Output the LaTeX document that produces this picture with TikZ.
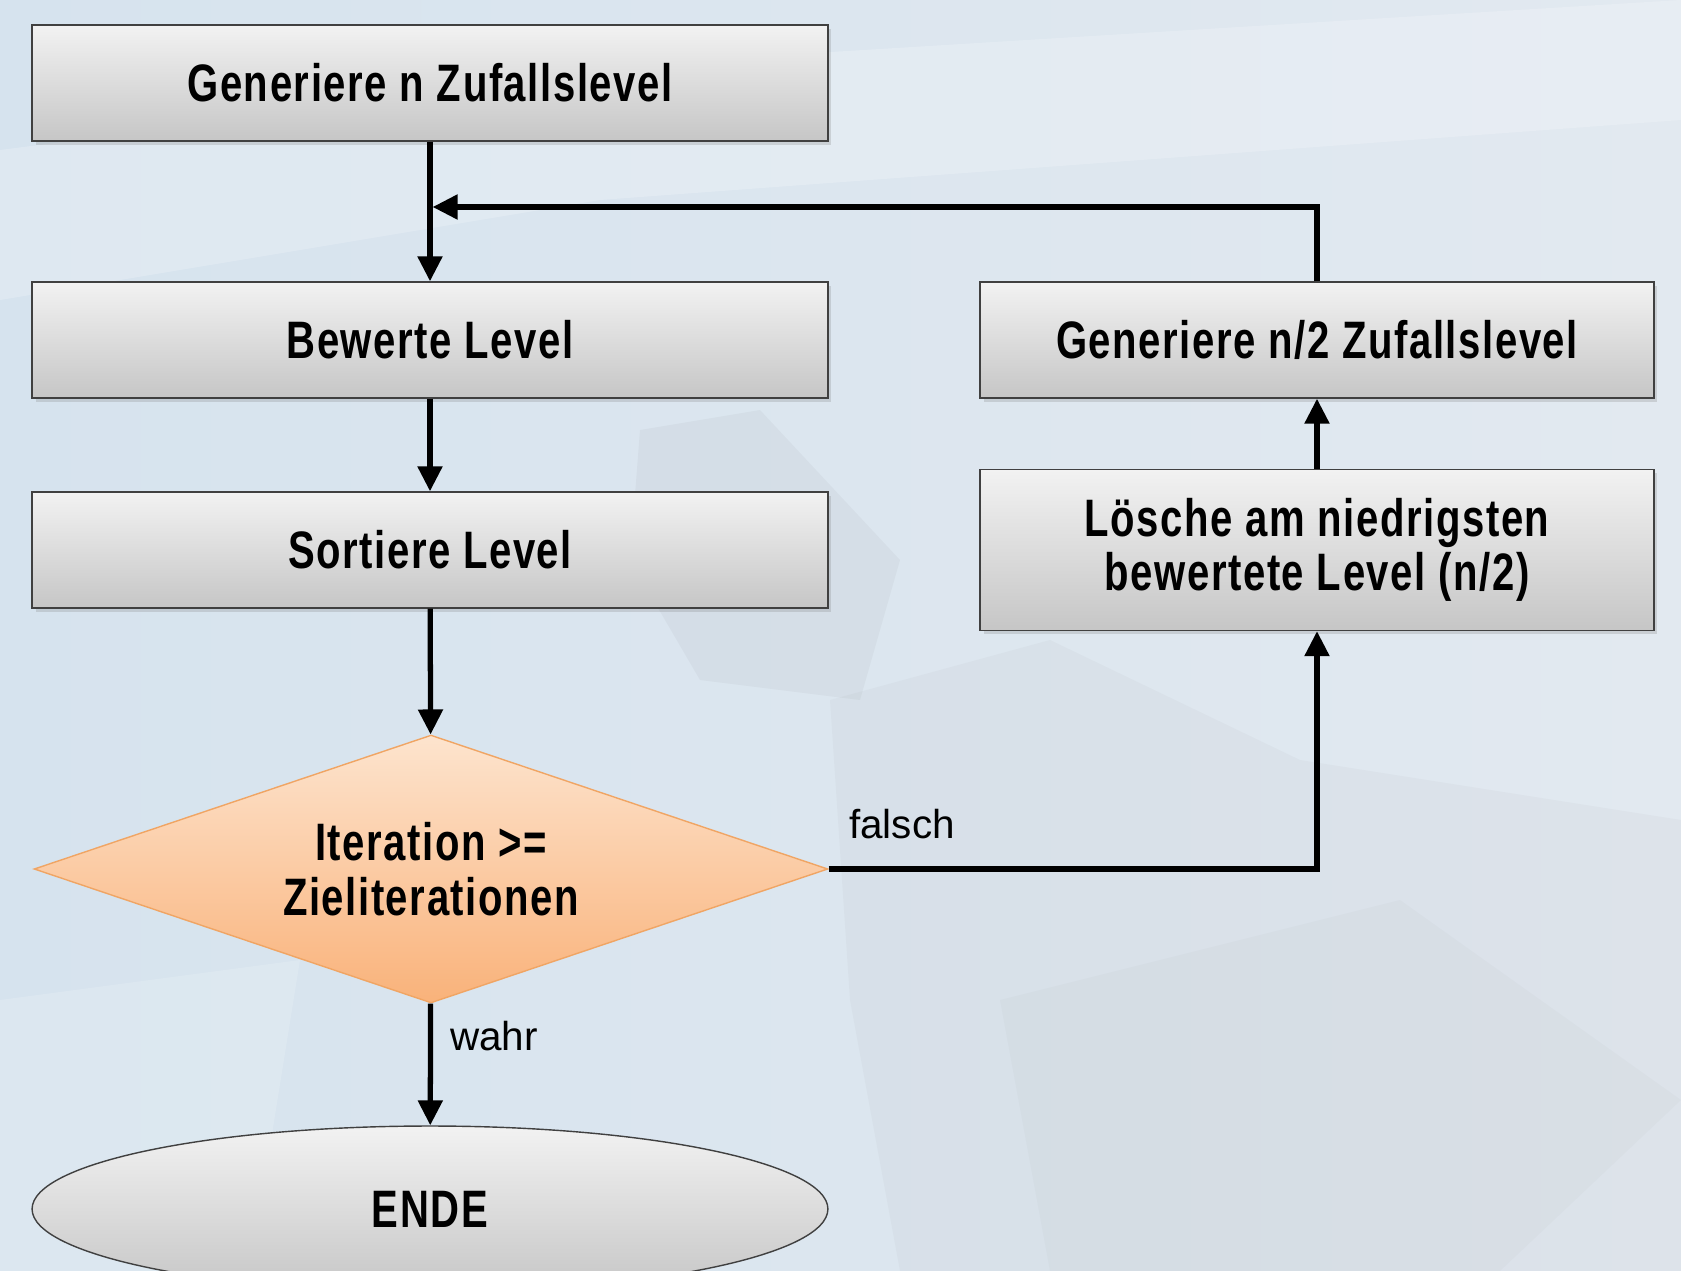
\documentclass[tikz,border=0pt]{standalone}
\usepackage{fontspec}
\setmainfont{Liberation Sans}
\newfontfamily\boxfont[FakeStretch=0.76,LetterSpace=3]{Liberation Sans}
\usetikzlibrary{shapes.geometric,arrows.meta,shadows}

\definecolor{bgleft}{RGB}{214,227,238}
\definecolor{bgright}{RGB}{226,233,240}
\definecolor{boxtop}{RGB}{242,242,242}
\definecolor{boxbot}{RGB}{198,198,198}
\definecolor{condtop}{RGB}{253,228,206}
\definecolor{condbot}{RGB}{249,178,122}
\definecolor{condline}{RGB}{240,165,100}
\newcommand\boxtext{\boxfont\bfseries\fontsize{30}{31}\selectfont}
\newcommand\edgetext{\fontsize{23}{26}\selectfont}

\begin{document}
\begin{tikzpicture}[x=0.02cm,y=-0.02cm,
  box/.style={draw=black!75,line width=0.8pt,top color=boxtop,bottom color=boxbot,
    minimum width=15.92cm,minimum height=2.32cm,inner sep=0pt,align=center,font=\boxtext,
    drop shadow={shadow xshift=2pt,shadow yshift=-2pt,opacity=0.25}},
  rbox/.style={box,minimum width=13.48cm},
  cond/.style={diamond,draw=condline,line width=0.8pt,top color=condtop,bottom color=condbot,
    aspect=2.96,minimum width=15.88cm,minimum height=5.36cm,inner sep=0pt,align=center,font=\boxtext},
  stop/.style={ellipse,draw=black!75,line width=0.8pt,top color=boxtop,bottom color=boxbot,
    minimum width=15.92cm,minimum height=3.32cm,inner sep=0pt,font=\boxtext},
  flow/.style={line width=3pt,-{Triangle[length=0.5cm,width=0.48cm]}},
  lbl/.style={font=\edgetext,inner sep=0pt}]
\useasboundingbox (0,0) rectangle (1681,1271);
\clip (0,0) rectangle (1681,1271);

% background
\shade[left color=bgleft,right color=bgright] (0,0) rectangle (1681,1271);
\fill[white,opacity=0.2] (0,150) -- (700,60) -- (1681,0) -- (1681,120) -- (600,200) -- (0,300) -- cycle;
\fill[gray,opacity=0.07] (640,430) -- (760,410) -- (900,560) -- (860,700) -- (700,680) -- (630,560) -- cycle;
\fill[gray,opacity=0.05] (830,700) -- (1050,640) -- (1300,760) -- (1681,820) -- (1681,1271) -- (900,1271) -- (850,1000) -- cycle;
\fill[gray,opacity=0.04] (1000,1000) -- (1400,900) -- (1681,1100) -- (1500,1271) -- (1050,1271) -- cycle;
\fill[white,opacity=0.15] (0,1000) -- (300,960) -- (250,1271) -- (0,1271) -- cycle;

% left column
\node[box] (gen) at (430,83) {Generiere n Zufallslevel};
\node[box] (bew) at (430,340) {Bewerte Level};
\node[box] (sort) at (430,550) {Sortiere Level};
\node[cond] (test) at (431,869) {Iteration >=\\Zieliterationen};
\node[stop] (ende) at (430,1209) {ENDE};

% right column
\node[rbox] (rgen) at (1317,340) {Generiere n/2 Zufallslevel};
\node[rbox,minimum height=3.22cm] (del) at (1317,550) {Lösche am niedrigsten\\bewertete Level (n/2)};

\coordinate (join) at (430,207);

\draw[flow] (gen) -- (bew);
\draw[flow] (bew) -- (sort);
\draw[flow] (sort) -- (test);
\draw[flow] (test) -- (ende);
\draw[flow] (test.east) -| (del.south);
\draw[flow] (del) -- (rgen);
\draw[flow,shorten >=1.5pt] (rgen.north) |- (join);

\node[lbl] (no) at (902,824) {falsch};
\node[lbl] (yes) at (494,1036) {wahr};
\end{tikzpicture}
\end{document}
